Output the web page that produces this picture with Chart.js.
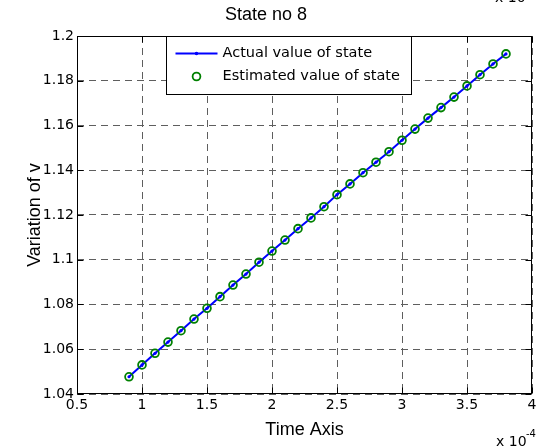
<!DOCTYPE html>
<html>
<head>
<meta charset="utf-8">
<title>State no 8</title>
<script src="https://cdn.jsdelivr.net/npm/chart.js@4.4.0/dist/chart.umd.min.js"></script>
<style>
  html, body { margin: 0; padding: 0; background: #fff; }
  #wrap { width: 547px; height: 448px; }
</style>
</head>
<body>
<div id="wrap"><canvas id="stateChart" width="547" height="448"></canvas></div>
<script>
// time samples, in units of 1e-4 (the axis shows "x 10^-4")
const timeAxis = [0.9, 1.0, 1.1, 1.2, 1.3, 1.4, 1.5, 1.6, 1.7, 1.8,
                  1.9, 2.0, 2.1, 2.2, 2.3, 2.4, 2.5, 2.6, 2.7, 2.8,
                  2.9, 3.0, 3.1, 3.2, 3.3, 3.4, 3.5, 3.6, 3.7, 3.8];
const actualState = [1.0477, 1.0530, 1.0582, 1.0632, 1.0683, 1.0735, 1.0783, 1.0835, 1.0887, 1.0936,
                     1.0989, 1.1039, 1.1088, 1.1139, 1.1187, 1.1237, 1.1291, 1.1339, 1.1389, 1.1436,
                     1.1483, 1.1534, 1.1584, 1.1633, 1.1680, 1.1727, 1.1777, 1.1827, 1.1875, 1.1920];
const estimatedState = [1.0477, 1.0530, 1.0582, 1.0632, 1.0683, 1.0735, 1.0783, 1.0835, 1.0887, 1.0936,
                        1.0989, 1.1039, 1.1088, 1.1139, 1.1187, 1.1237, 1.1291, 1.1339, 1.1389, 1.1436,
                        1.1483, 1.1534, 1.1584, 1.1633, 1.1680, 1.1727, 1.1777, 1.1827, 1.1875, 1.1920];
const xTicks = { min: 0.5, max: 4, step: 0.5 };
const yTicks = { min: 1.04, max: 1.2, step: 0.02 };
const seriesNames = ["Actual value of state", "Estimated value of state"];

const BLUE = "#0000ff";
const GREEN = "#008000";
const GRID = "#5e5e5e";
const TICK_FONT = { family: "DejaVu Sans", size: 14 };
const LABEL_FONT = { family: "Liberation Sans", size: 18, weight: "normal" };

function pts(xs, ys) {
    return xs.map((x, i) => ({ x: x, y: ys[i] }));
}

// frame, inner tick marks, legend box and exponent labels (matlab style)
const matlabDecor = {
    id: "matlabDecor",
    afterDraw(chart) {
        const ctx = chart.ctx;
        const a = chart.chartArea;
        const sx = chart.scales.x, sy = chart.scales.y;
        const L = Math.round(a.left) + 0.5, R = Math.round(a.right) - 0.5;
        const T = Math.round(a.top) + 0.5, B = Math.round(a.bottom) - 0.5;
        const tl = 6;

        ctx.save();
        ctx.strokeStyle = "#000";
        ctx.lineWidth = 1;
        ctx.beginPath();
        sx.ticks.forEach(t => {
            const px = Math.round(sx.getPixelForValue(t.value)) + 0.5;
            ctx.moveTo(px, B); ctx.lineTo(px, B - tl);
            ctx.moveTo(px, T); ctx.lineTo(px, T + tl);
        });
        sy.ticks.forEach(t => {
            const py = Math.round(sy.getPixelForValue(t.value)) + 0.5;
            ctx.moveTo(L, py); ctx.lineTo(L + tl, py);
            ctx.moveTo(R, py); ctx.lineTo(R - tl, py);
        });
        ctx.stroke();
        ctx.strokeRect(L, T, R - L, B - T);

        // legend
        const lx = Math.round(a.left) + 89.5, ly = T;
        const lw = 245, lh = 58;
        ctx.fillStyle = "#fff";
        ctx.fillRect(lx, ly, lw, lh);
        ctx.strokeRect(lx, ly, lw, lh);
        const row1 = ly + 17, row2 = ly + 40;
        ctx.strokeStyle = BLUE;
        ctx.lineWidth = 2;
        ctx.beginPath();
        ctx.moveTo(lx + 9, row1); ctx.lineTo(lx + 51, row1);
        ctx.stroke();
        ctx.fillStyle = BLUE;
        ctx.beginPath();
        ctx.arc(lx + 30, row1, 1.8, 0, Math.PI * 2);
        ctx.fill();
        ctx.strokeStyle = GREEN;
        ctx.lineWidth = 1.8;
        ctx.beginPath();
        ctx.arc(lx + 30, row2, 3.9, 0, Math.PI * 2);
        ctx.stroke();
        ctx.fillStyle = "#000";
        ctx.font = "14.5px 'DejaVu Sans'";
        ctx.textAlign = "left";
        ctx.textBaseline = "middle";
        ctx.fillText(seriesNames[0], lx + 56, row1);
        ctx.fillText(seriesNames[1], lx + 56, row2);

        // exponent labels (the upper one is cut off by the top edge)
        ctx.textBaseline = "alphabetic";
        ctx.font = "14px 'DejaVu Sans'";
        ctx.fillText("x 10", 496, 446);
        ctx.fillText("x 10", 495, 1.5);
        ctx.font = "10px 'DejaVu Sans'";
        ctx.fillText("-4", 526, 437);
        ctx.fillText("-4", 525, -8);
        ctx.restore();
    }
};

Chart.defaults.color = "#000";
Chart.defaults.font.family = "DejaVu Sans";

new Chart(document.getElementById("stateChart"), {
    type: "scatter",
    data: {
        datasets: [
            {
                label: seriesNames[1],
                data: pts(timeAxis, estimatedState),
                showLine: false,
                pointStyle: "circle",
                pointRadius: 3.9,
                pointBorderWidth: 1.8,
                pointBorderColor: GREEN,
                pointBackgroundColor: "rgba(0,0,0,0)",
                order: 0
            },
            {
                label: seriesNames[0],
                data: pts(timeAxis, actualState),
                showLine: true,
                borderColor: BLUE,
                borderWidth: 2,
                pointRadius: 1.6,
                pointBorderWidth: 0,
                pointBackgroundColor: BLUE,
                order: 1
            }
        ]
    },
    options: {
        responsive: false,
        animation: false,
        devicePixelRatio: 1,
        layout: { padding: { left: 0, right: 15, top: 0, bottom: 0 } },
        plugins: {
            legend: { display: false },
            tooltip: { enabled: false },
            title: {
                display: true,
                text: "State no 8",
                font: LABEL_FONT,
                color: "#000",
                padding: { top: 4, bottom: 10.4 }
            }
        },
        scales: {
            x: {
                type: "linear",
                min: xTicks.min,
                max: xTicks.max,
                afterFit: s => { s.height = 54; },
                ticks: {
                    stepSize: xTicks.step,
                    font: TICK_FONT,
                    padding: 3,
                    maxRotation: 0,
                    callback: v => Number(v.toFixed(1)).toString()
                },
                grid: { color: GRID, lineWidth: 1, drawTicks: false },
                border: { display: false, dash: [7, 5] },
                title: {
                    display: true,
                    text: "Time Axis",
                    font: LABEL_FONT,
                    color: "#000",
                    padding: { top: 0, bottom: 7 }
                }
            },
            y: {
                type: "linear",
                min: yTicks.min,
                max: yTicks.max,
                afterFit: s => { s.width = 77; },
                ticks: {
                    stepSize: yTicks.step,
                    font: TICK_FONT,
                    padding: 3,
                    callback: v => Number(v.toFixed(2)).toString()
                },
                grid: { color: GRID, lineWidth: 1, drawTicks: false },
                border: { display: false, dash: [7, 5] },
                title: {
                    display: true,
                    text: "Variation of v",
                    font: LABEL_FONT,
                    color: "#000",
                    padding: { top: 24.5, bottom: 0 }
                }
            }
        }
    },
    plugins: [matlabDecor]
});
</script>
</body>
</html>
